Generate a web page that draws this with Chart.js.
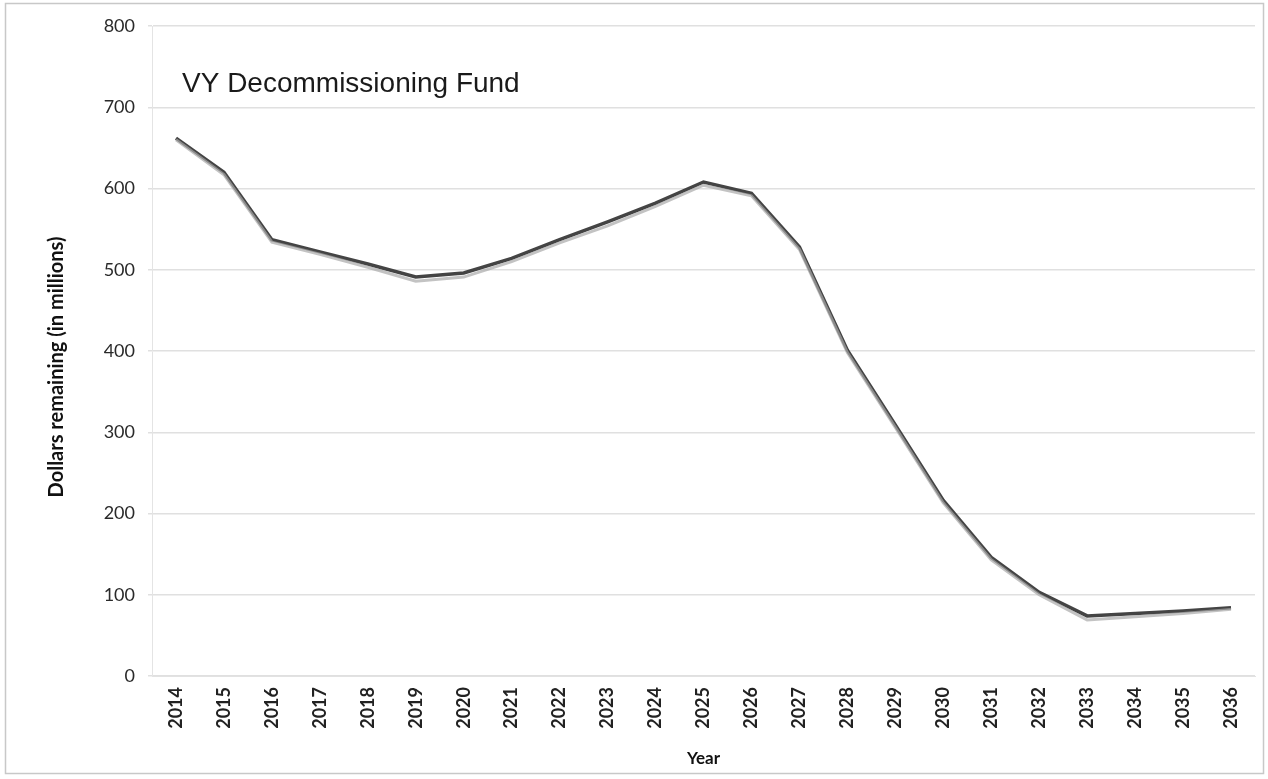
<!DOCTYPE html>
<html>
<head>
<meta charset="utf-8">
<script src="https://cdn.jsdelivr.net/npm/chart.js@4/dist/chart.umd.min.js"></script>
<style>
    html, body { margin: 0; padding: 0; background: #fff; }
    #wrap { width: 1268px; height: 779px; }
</style>
</head>
<body>
<div id="wrap"><canvas id="fundChart" width="1268" height="779"></canvas></div>
<script>
// years on the x axis
const years = ["2014", "2015", "2016", "2017", "2018", "2019", "2020", "2021", "2022", "2023", "2024",
    "2025", "2026", "2027", "2028", "2029", "2030", "2031", "2032", "2033", "2034", "2035", "2036"];

// fund balance, millions of dollars (dark line)
const fundRemaining = [662, 620, 537, 522, 507, 491, 496, 514, 537, 559, 582,
    608, 594, 528, 401, 309, 216, 146, 103, 74, 77, 80, 84];

// faint lighter trace sitting just under the main line
const fundShadow = [660, 617, 534, 519, 503, 486, 491, 510, 533, 554, 578,
    604, 591, 525, 398, 306, 213, 143, 100, 69, 73, 77, 82];

const yTicks = [0, 100, 200, 300, 400, 500, 600, 700, 800];

const chartTitle = "VY Decommissioning Fund";
const yAxisTitle = "Dollars remaining (in millions)";

document.addEventListener("DOMContentLoaded", function () {
    const ctx = document.getElementById('fundChart');

    // white background + thin frame + titles
    const decorPlugin = {
        id: 'decor',
        beforeDraw(chart) {
            const c = chart.ctx;
            c.save();
            c.fillStyle = '#fff';
            c.fillRect(0, 0, chart.width, chart.height);
            c.strokeStyle = '#c8c8c8';
            c.lineWidth = 1.5;
            c.strokeRect(5.5, 3.5, chart.width - 10, chart.height - 9);
            c.restore();
        },
        afterDraw(chart) {
            const c = chart.ctx;
            const area = chart.chartArea;
            c.save();
            c.fillStyle = '#1a1a1a';
            c.font = '28px "Liberation Sans", Arial, sans-serif';
            c.textBaseline = 'middle';
            c.fillText(chartTitle, area.left + 30, area.top + 58);

            // y axis title, rotated
            c.translate(57, 367);
            c.rotate(-Math.PI / 2);
            c.textAlign = 'center';
            c.fillStyle = '#111';
            c.font = 'bold 20px Lato, "Open Sans", sans-serif';
            c.fillText(yAxisTitle, 0, 0);
            c.restore();
        }
    };

    new Chart(ctx.getContext("2d"), {
        type: 'line',
        data: {
            labels: years,
            datasets: [
                {
                    label: "shadow",
                    data: fundShadow,
                    borderColor: 'rgba(170,170,170,0.7)',
                    borderWidth: 3,
                    pointRadius: 0,
                    tension: 0,
                    fill: false
                },
                {
                    label: "Dollars remaining",
                    data: fundRemaining,
                    borderColor: '#444',
                    borderWidth: 3.5,
                    pointRadius: 0,
                    tension: 0,
                    fill: false
                }
            ]
        },
        options: {
            responsive: false,
            animation: false,
            devicePixelRatio: 1,
            layout: { padding: { left: 26, right: 13, top: 26, bottom: 8 } },
            plugins: {
                legend: { display: false },
                tooltip: { enabled: false },
                title: { display: false }
            },
            scales: {
                x: {
                    offset: true,
                    grid: { display: false, drawTicks: false },
                    border: { color: '#e2e2e2' },
                    ticks: {
                        minRotation: 90,
                        maxRotation: 90,
                        padding: 11,
                        color: '#222',
                        font: { family: 'Lato, "Open Sans", sans-serif', size: 18, weight: 'bold' }
                    },
                    title: {
                        display: true,
                        text: "Year",
                        color: '#111',
                        padding: { top: 2, bottom: 2 },
                        font: { family: 'Lato, "Open Sans", sans-serif', size: 17, weight: 'bold' }
                    },
                    afterFit(scale) { scale.height = 779 - 676 - 8; }
                },
                y: {
                    min: 0,
                    max: 800,
                    afterBuildTicks(scale) { scale.ticks = yTicks.map(v => ({ value: v })); },
                    grid: {
                        color: '#e0e0e0',
                        lineWidth: 1.5,
                        tickLength: 4,
                        tickColor: '#e0e0e0'
                    },
                    border: { color: '#e4e4e4', display: true },
                    ticks: {
                        padding: 13,
                        color: '#2a2a2a',
                        font: { family: 'Lato, "Open Sans", sans-serif', size: 18 }
                    },
                    title: { display: false },
                    afterFit(scale) { scale.width = 152 - 26; }
                }
            }
        },
        plugins: [decorPlugin]
    });
});
</script>
</body>
</html>
